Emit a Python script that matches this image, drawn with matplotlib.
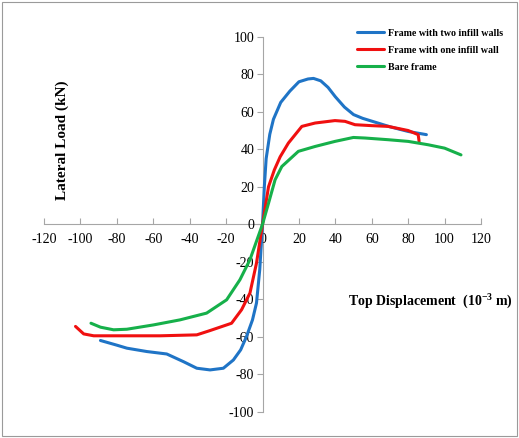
import matplotlib
matplotlib.use("Agg")
import matplotlib.pyplot as plt
from matplotlib.patches import Rectangle

# readings (displacement in 1e-3 m, load in kN)
two_x = [-89, -80, -74.5, -63.5, -52.6, -43.4, -36.1, -28.8, -21.5, -16, -12, -8.8, -5.5, -3.3, -1.5, 0,
         1, 2, 4, 6, 10, 15, 20, 25, 28, 32, 36, 40, 45, 50, 55, 60, 70, 80, 90]
two_y = [-62, -64.5, -66.1, -67.9, -69.2, -73.3, -76.8, -77.7, -76.8, -72.4, -67, -59.9, -51, -42, -24, 0,
         20, 35, 48, 56, 65, 71, 76, 77.5, 77.8, 76.5, 73, 68, 62.5, 58.5, 56.5, 55, 52, 49.5, 47.8]

one_x = [-102.7, -98.2, -92.7, -74.5, -56.2, -36.1, -28.8, -17, -11.5, -6.9, -3.3, 0,
         3.3, 6.5, 9.7, 14.2, 21.6, 28.9, 39.8, 45.3, 50.8, 60, 69, 80, 85.5, 86]
one_y = [-54.5, -58.5, -59.5, -59.5, -59.5, -59, -56.7, -52.8, -45.6, -36.7, -20.7, 0,
         20, 29, 36, 43.3, 52.2, 54, 55.3, 54.9, 53.1, 52.6, 52.2, 50, 47.8, 44.2]

bare_x = [-94.2, -89, -81.8, -74.5, -59.9, -45.3, -30.7, -19.7, -12.4, -6.9, 0,
          3.3, 6.9, 10.6, 19.7, 28.9, 39.8, 49.9, 56.3, 69, 80, 91, 100, 109]
bare_y = [-52.8, -54.9, -56.3, -56, -53.7, -51, -47.4, -40.3, -29.6, -18.9, 0,
          11.2, 23.7, 30.8, 38.9, 41.5, 44.2, 46.3, 46, 45.1, 44.2, 42.4, 40.6, 37]

xticks = list(range(-120, 121, 20))
yticks = list(range(-100, 101, 20))

plt.rcParams["font.family"] = ["Liberation Serif", "DejaVu Serif"]
plt.rcParams["axes.unicode_minus"] = False
plt.rcParams["mathtext.fontset"] = "custom"
plt.rcParams["mathtext.rm"] = "Liberation Serif"
plt.rcParams["mathtext.bf"] = "Liberation Serif:bold"

fig = plt.figure(figsize=(5.19, 4.38), dpi=100)
ax = fig.add_axes([0.0848, 0.06, 0.842, 0.856])

kw = dict(lw=2.2, solid_joinstyle="round", solid_capstyle="round")
ax.plot(two_x, two_y, color="#1F74C6", label="Frame with two infill walls", **kw)
ax.plot(one_x, one_y, color="#F01010", label="Frame with one infill wall", **kw)
ax.plot(bare_x, bare_y, color="#16B04A", label="Bare frame", **kw)

ax.set_xlim(-120, 120)
ax.set_ylim(-100, 100)
ax.set_xticks(xticks)
ax.set_yticks(yticks)
ax.spines["left"].set_position(("data", 0))
ax.spines["bottom"].set_position(("data", 0))
ax.spines["top"].set_visible(False)
ax.spines["right"].set_visible(False)
for s in ("left", "bottom"):
    ax.spines[s].set_color("#A6A6A6")
    ax.spines[s].set_zorder(0)
ax.tick_params(axis="x", direction="in", length=4, color="#A6A6A6", labelsize=10, pad=6)
ax.tick_params(axis="y", direction="out", length=4, color="#A6A6A6", labelsize=10, pad=2)
ax.patch.set_visible(False)

ax.legend(loc="upper left", bbox_to_anchor=(0.696, 1.046), frameon=False,
          prop={"weight": "bold", "size": 7.2}, handlelength=2.7,
          handletextpad=0.4, labelspacing=0.8, borderpad=0.4)

fig.text(0.12, 0.68, "Lateral Load (kN)", rotation=90, ha="center", va="center",
         fontsize=11, fontweight="bold")
fig.text(0.83, 0.315, r"Top Displacement  (10$^{\mathbf{-3}}$ m)", ha="center", va="center",
         fontsize=10, fontweight="bold")

fig.patches.append(Rectangle((0.004, 0.004), 0.992, 0.992, transform=fig.transFigure,
                             fill=False, edgecolor="#9A9A9A", lw=0.8))

fig.savefig("out.png", dpi=100)
